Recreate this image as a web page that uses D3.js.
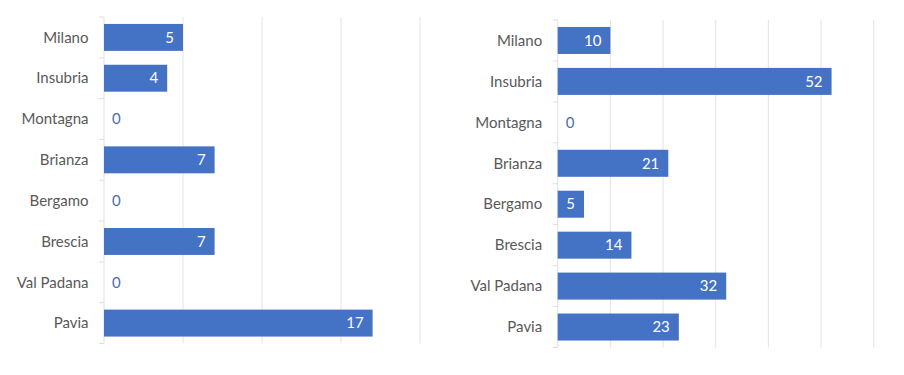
<!DOCTYPE html>
<html><head><meta charset="utf-8">
<script src="https://cdn.jsdelivr.net/npm/d3@7"></script>
<style>body{margin:0;background:#fff;} svg{display:block;} text{font-family:Lato,"Open Sans",sans-serif;}</style>
</head><body>
<svg id="c" width="904" height="375"></svg>
<script>
const categories = ["Milano","Insubria","Montagna","Brianza","Bergamo","Brescia","Val Padana","Pavia"];
const leftValues = [5,4,0,7,0,7,0,17];
const rightValues = [10,52,0,21,5,14,32,23];
const leftTicks = [0,5,10,15,20];
const rightTicks = [0,10,20,30,40,50,60];

const svg = d3.select("#c");

function panel(values, ticks, x0, x1, y0, y1) {
  const x = d3.scaleLinear().domain([ticks[0], ticks[ticks.length-1]]).range([x0, x1]);
  const y = d3.scaleBand().domain(categories).range([y0, y1]).paddingInner(0.34).paddingOuter(0.17);
  const g = svg.append("g");
  g.selectAll(".grid").data(ticks.slice(1)).join("line")
    .attr("x1", d => x(d)).attr("x2", d => x(d))
    .attr("y1", y0).attr("y2", y1)
    .attr("stroke", "#e3e3e3").attr("stroke-width", 1);
  g.append("line").attr("x1", x0).attr("x2", x0).attr("y1", y0).attr("y2", y1)
    .attr("stroke", "#e0e0e0");
  const bounds = d3.range(categories.length + 1).map(i => y0 + i * (y1 - y0) / categories.length);
  g.selectAll(".tk").data(bounds).join("line")
    .attr("x1", x0 - 5).attr("x2", x0).attr("y1", d => d).attr("y2", d => d)
    .attr("stroke", "#f0d8d0");
  g.selectAll(".cat").data(categories).join("text")
    .attr("x", x0 - 15.5).attr("y", d => y(d) + y.bandwidth()/2)
    .attr("dy", "0.35em").attr("text-anchor", "end")
    .attr("fill", "#595959").style("font-size", "15px").text(d => d);
  g.selectAll(".bar").data(values).join("rect")
    .attr("x", x0).attr("y", (d,i) => y(categories[i]))
    .attr("width", d => x(d) - x0).attr("height", y.bandwidth())
    .attr("fill", "#4472C4");
  g.selectAll(".val").data(values).join("text")
    .attr("x", d => d === 0 ? x0 + 8 : x(d) - 9)
    .attr("y", (d,i) => y(categories[i]) + y.bandwidth()/2)
    .attr("dy", "0.35em")
    .attr("text-anchor", d => d === 0 ? "start" : "end")
    .attr("fill", d => d === 0 ? "#4a6cb0" : "#ffffff")
    .style("font-size", "15px").text(d => d);
}

panel(leftValues, leftTicks, 104, 420, 17, 343.5);
panel(rightValues, rightTicks, 557.7, 873.7, 20, 347.5);
</script>
</body></html>
